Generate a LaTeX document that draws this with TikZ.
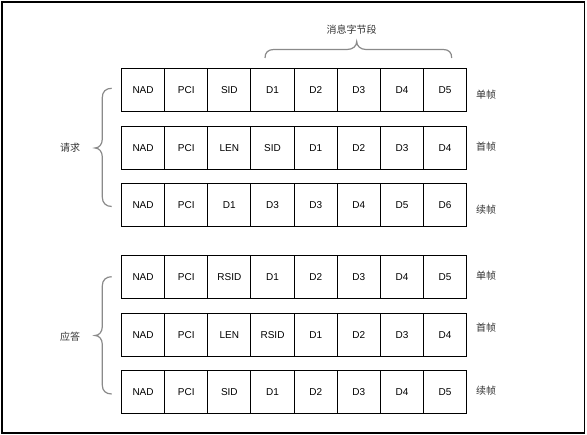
\documentclass[tikz,border=0pt]{standalone}
\usepackage{fontspec}
\setmainfont{Liberation Sans}
\newfontfamily\cjk{Noto Sans CJK SC}
\definecolor{bracegray}{HTML}{8A8A8A}
\definecolor{labgray}{HTML}{333333}
\begin{document}
\begin{tikzpicture}[x=1pt,y=-1pt,
  cell/.style={draw=black, line width=1pt, minimum width=43.15pt, minimum height=43pt,
    inner sep=0pt, anchor=north west, font=\fontsize{10}{12}\selectfont},
  lab/.style={font=\cjk\fontsize{10}{12}\selectfont, text=labgray, inner sep=0pt},
  brace/.style={draw=bracegray, line width=1.2pt}]
\useasboundingbox (0,0) rectangle (587,435);
\draw[line width=1.2pt] (2,2) rectangle (584.5,433);
% rows of cells
\foreach \r/\t/\L in {
  1/68.3/{NAD,PCI,SID,D1,D2,D3,D4,D5},
  2/126.3/{NAD,PCI,LEN,SID,D1,D2,D3,D4},
  3/183.3/{NAD,PCI,D1,D3,D3,D4,D5,D6},
  4/255.3/{NAD,PCI,RSID,D1,D2,D3,D4,D5},
  5/312.7/{NAD,PCI,LEN,RSID,D1,D2,D3,D4},
  6/370/{NAD,PCI,SID,D1,D2,D3,D4,D5}}{
  \foreach \s [count=\c from 0] in \L {
    \node[cell] (r\r c\c) at ({121+43.15*\c},\t) {\s};
  }
}
% frame labels
\node[lab] (f1) at (486,95) {单帧};
\node[lab] (f2) at (486,146.7) {首帧};
\node[lab] (f3) at (486,209.3) {续帧};
\node[lab] (f4) at (486,275.7) {单帧};
\node[lab] (f5) at (486,327.7) {首帧};
\node[lab] (f6) at (486,390.7) {续帧};
% group labels
\node[lab] (req) at (70,148) {请求};
\node[lab] (resp) at (70,337) {应答};
\node[lab] (msg) at (351.7,29.3) {消息字节段};
% top brace
\draw[brace] (265,58) .. controls (265,52.5) and (268,49.5) .. (274,49.5) -- (347,49.5)
  .. controls (353,49.5) and (356.7,46) .. (356.7,41.5)
  .. controls (356.7,46) and (360.5,49.5) .. (366,49.5) -- (443,49.5)
  .. controls (449,49.5) and (451.7,52.5) .. (451.7,58);
% left brace (request)
\draw[brace] (111.7,88.3) .. controls (106,88.3) and (102.3,91.5) .. (102.3,97.5) -- (102.3,139)
  .. controls (102.3,144.5) and (99,148) .. (95,148)
  .. controls (99,148) and (102.3,151.5) .. (102.3,157) -- (102.3,197)
  .. controls (102.3,203) and (106,206.5) .. (111.7,206.5);
% left brace (response)
\draw[brace] (111.7,276.7) .. controls (106,276.7) and (102.3,280) .. (102.3,286) -- (102.3,326.5)
  .. controls (102.3,332) and (99,335.5) .. (95,335.5)
  .. controls (99,335.5) and (102.3,339) .. (102.3,344.5) -- (102.3,385)
  .. controls (102.3,391) and (106,394) .. (111.7,394);
\end{tikzpicture}
\end{document}
